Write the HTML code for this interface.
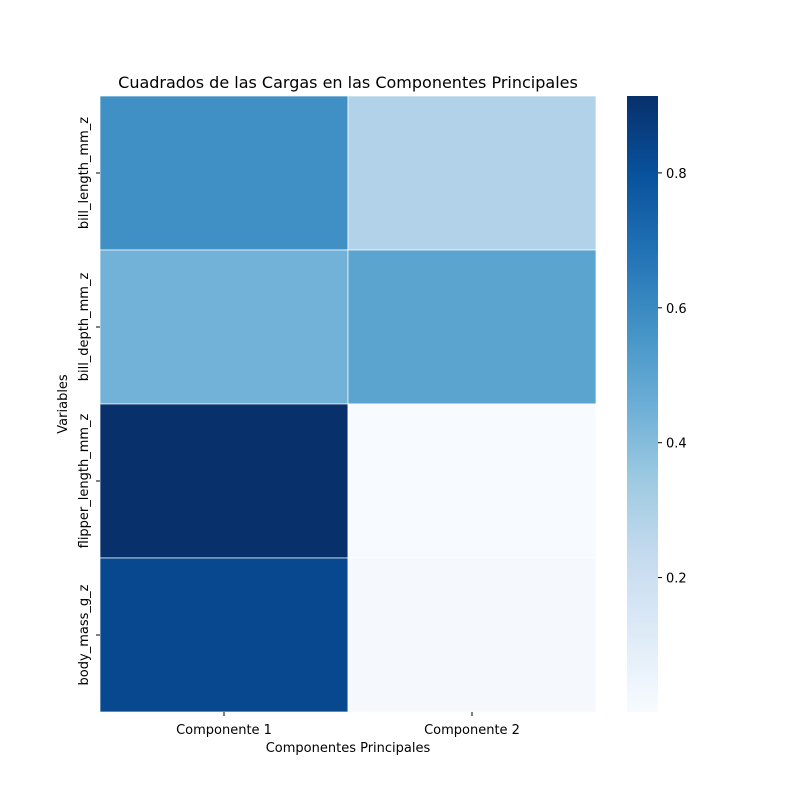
<!DOCTYPE html>
<html><head><meta charset="utf-8"><style>
body{margin:0;background:#fff;}
svg text{font-family:"DejaVu Sans","Liberation Sans",sans-serif;fill:#000;}
</style></head><body>
<svg id="chart" width="800" height="800" viewBox="0 0 800 800">
<defs><linearGradient id="cbgrad" x1="0" y1="1" x2="0" y2="0">
<stop offset="0" stop-color="#f7fbff"/><stop offset="0.125" stop-color="#deebf7"/><stop offset="0.25" stop-color="#c6dbef"/><stop offset="0.375" stop-color="#9ecae1"/><stop offset="0.5" stop-color="#6baed6"/><stop offset="0.625" stop-color="#4292c6"/><stop offset="0.75" stop-color="#2171b5"/><stop offset="0.875" stop-color="#08519c"/><stop offset="1" stop-color="#08306b"/>
</linearGradient></defs>
<g id="cells"></g>
<g id="labels"></g>
<rect x="627" y="96" width="31" height="616" fill="url(#cbgrad)"/>
<g id="cbticks"></g>
<text x="348" y="88" font-size="16" text-anchor="middle">Cuadrados de las Cargas en las Componentes Principales</text>
<text x="348" y="752" font-size="13" text-anchor="middle">Componentes Principales</text>
<text x="0" y="0" font-size="13" text-anchor="middle" transform="translate(67,404) rotate(-90)">Variables</text>
</svg>
<script>
const rows = ["bill_length_mm_z","bill_depth_mm_z","flipper_length_mm_z","body_mass_g_z"];
const cols = ["Componente 1","Componente 2"];
const comp1 = [0.58, 0.44, 0.914, 0.83];
const comp2 = [0.29, 0.50, 0.001, 0.012];
const cbTicks = [0.2, 0.4, 0.6, 0.8];
const vmin = 0.0007, vmax = 0.914;
const X0=100, X1=596, Y0=96, Y1=712;
const stops=["#f7fbff","#deebf7","#c6dbef","#9ecae1","#6baed6","#4292c6","#2171b5","#08519c","#08306b"];
function color(v){let t=Math.max(0,Math.min(1,(v-vmin)/(vmax-vmin)))*8;let i=Math.min(7,Math.floor(t));let f=t-i;
 const a=stops[i],b=stops[i+1];const p=(s,k)=>parseInt(s.substr(1+2*k,2),16);
 return "rgb("+[0,1,2].map(k=>Math.round(p(a,k)+(p(b,k)-p(a,k))*f)).join(",")+")";}
const cw=(X1-X0)/cols.length, ch=(Y1-Y0)/rows.length;
const xs=c=>X0+c*cw, ys=r=>Y0+r*ch;
const ns="http://www.w3.org/2000/svg";
const g=document.getElementById("cells"), lg=document.getElementById("labels"), tg=document.getElementById("cbticks");
const series=[comp1,comp2];
series.forEach((arr,c)=>arr.forEach((v,r)=>{
 const el=document.createElementNS(ns,"rect");
 el.setAttribute("x",xs(c));el.setAttribute("y",ys(r));el.setAttribute("width",cw);el.setAttribute("height",ch);
 el.setAttribute("fill",color(v));el.setAttribute("stroke","#fff");el.setAttribute("stroke-width","0.7");
 
 
 g.appendChild(el);}));
cols.forEach((c,i)=>{const x=xs(i)+cw/2;
 const l=document.createElementNS(ns,"line");l.setAttribute("x1",x);l.setAttribute("x2",x);l.setAttribute("y1",Y1);l.setAttribute("y2",Y1+4);l.setAttribute("stroke","#000");
 
 
 lg.appendChild(l);
 const t=document.createElementNS(ns,"text");t.setAttribute("x",x);t.setAttribute("y",Y1+22);t.setAttribute("font-size","13");t.setAttribute("text-anchor","middle");t.textContent=c;
 
 
 lg.appendChild(t);});
rows.forEach((r,i)=>{const y=ys(i)+ch/2;
 const l=document.createElementNS(ns,"line");l.setAttribute("x1",X0-4);l.setAttribute("x2",X0);l.setAttribute("y1",y);l.setAttribute("y2",y);l.setAttribute("stroke","#000");
 
 
 lg.appendChild(l);
 const t=document.createElementNS(ns,"text");t.setAttribute("font-size","13");t.setAttribute("text-anchor","middle");t.setAttribute("transform","translate(88,"+y+") rotate(-90)");t.textContent=r;
 
 
 lg.appendChild(t);});
const cby=v=>712-(v-vmin)/(vmax-vmin)*616;
cbTicks.forEach(v=>{const y=cby(v);
 const l=document.createElementNS(ns,"line");l.setAttribute("x1",658);l.setAttribute("x2",662);l.setAttribute("y1",y);l.setAttribute("y2",y);l.setAttribute("stroke","#000");
 
 
 tg.appendChild(l);
 const t=document.createElementNS(ns,"text");t.setAttribute("x",666);t.setAttribute("y",y+5);t.setAttribute("font-size","13");t.textContent=v.toFixed(1);
 
 
 tg.appendChild(t);});
</script>
</body></html>
